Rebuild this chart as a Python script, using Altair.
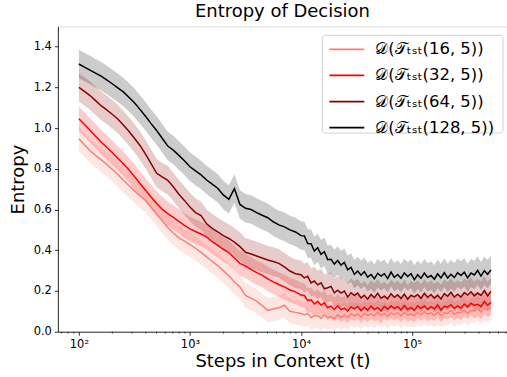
import altair as alt
import pandas as pd

# Sampling positions (log10 of steps in context)
early_logs = [2.00, 2.05, 2.10, 2.15, 2.20, 2.25, 2.30, 2.35, 2.40, 2.45,
              2.50, 2.55, 2.60, 2.65, 2.70, 2.75, 2.80, 2.85, 2.90, 2.95,
              3.00, 3.05, 3.10, 3.15, 3.20, 3.25, 3.30, 3.35, 3.40, 3.45,
              3.50, 3.55, 3.60, 3.65, 3.70, 3.75, 3.80, 3.85, 3.90, 3.95, 4.00]
late_logs = [4.03, 4.06, 4.09, 4.12, 4.15, 4.18, 4.21, 4.24, 4.27, 4.30,
             4.33, 4.36, 4.39, 4.42, 4.45, 4.48, 4.51, 4.54, 4.57, 4.60,
             4.63, 4.66, 4.69, 4.72, 4.75, 4.78, 4.81, 4.84, 4.87, 4.90,
             4.93, 4.96, 4.99, 5.02, 5.05, 5.08, 5.11, 5.14, 5.17, 5.20,
             5.23, 5.26, 5.29, 5.32, 5.35, 5.38, 5.41, 5.44, 5.47, 5.50,
             5.53, 5.56, 5.59, 5.62, 5.65, 5.68, 5.71]
log_steps = early_logs + late_logs

series_names = ["𝒟(𝒯ₜₛₜ(16, 5))", "𝒟(𝒯ₜₛₜ(32, 5))",
                "𝒟(𝒯ₜₛₜ(64, 5))", "𝒟(𝒯ₜₛₜ(128, 5))"]
series_colors = ["#fa8072", "#ff0000", "#8b0000", "#000000"]
band_opacity = [0.2, 0.2, 0.2, 0.15]

# Mean entropy per series
entropy_16 = [0.948, 0.918, 0.890, 0.866, 0.845, 0.822, 0.798, 0.772, 0.744, 0.718,
              0.692, 0.668, 0.645, 0.612, 0.578, 0.545, 0.512, 0.485, 0.462, 0.445,
              0.428, 0.410, 0.390, 0.368, 0.345, 0.325, 0.300, 0.275, 0.245, 0.220,
              0.178, 0.165, 0.150, 0.128, 0.105, 0.112, 0.118, 0.130, 0.100, 0.095, 0.090,
              0.082, 0.090, 0.069, 0.078, 0.080, 0.065, 0.082, 0.068, 0.075, 0.064,
              0.083, 0.070, 0.081, 0.070, 0.089, 0.078, 0.087, 0.072, 0.091, 0.080,
              0.088, 0.078, 0.096, 0.080, 0.090, 0.076, 0.092, 0.084, 0.094, 0.078,
              0.096, 0.082, 0.088, 0.079, 0.095, 0.083, 0.099, 0.087, 0.093, 0.081,
              0.097, 0.079, 0.093, 0.090, 0.104, 0.086, 0.096, 0.094, 0.108, 0.090,
              0.106, 0.102, 0.116, 0.098, 0.116, 0.106, 0.120]
entropy_32 = [1.046, 1.018, 0.990, 0.960, 0.932, 0.906, 0.880, 0.852, 0.825, 0.795,
              0.762, 0.728, 0.695, 0.662, 0.630, 0.602, 0.580, 0.562, 0.542, 0.522,
              0.505, 0.492, 0.480, 0.465, 0.442, 0.424, 0.405, 0.388, 0.362, 0.336,
              0.322, 0.306, 0.290, 0.278, 0.260, 0.245, 0.232, 0.220, 0.205, 0.196, 0.180,
              0.178, 0.153, 0.157, 0.136, 0.149, 0.131, 0.142, 0.118, 0.126, 0.109,
              0.127, 0.109, 0.116, 0.102, 0.122, 0.112, 0.124, 0.104, 0.120, 0.106,
              0.126, 0.110, 0.118, 0.102, 0.125, 0.111, 0.127, 0.115, 0.123, 0.107,
              0.129, 0.109, 0.119, 0.105, 0.127, 0.115, 0.127, 0.109, 0.123, 0.113,
              0.131, 0.107, 0.125, 0.121, 0.133, 0.115, 0.127, 0.116, 0.136, 0.122,
              0.140, 0.129, 0.135, 0.123, 0.148, 0.130, 0.144]
entropy_64 = [1.200, 1.180, 1.160, 1.135, 1.110, 1.090, 1.068, 1.045, 1.015, 0.985,
              0.950, 0.915, 0.872, 0.825, 0.778, 0.760, 0.744, 0.712, 0.675, 0.645,
              0.612, 0.585, 0.570, 0.530, 0.508, 0.490, 0.472, 0.458, 0.440, 0.418,
              0.390, 0.382, 0.372, 0.362, 0.352, 0.345, 0.336, 0.318, 0.298, 0.285, 0.280,
              0.264, 0.272, 0.240, 0.249, 0.230, 0.240, 0.211, 0.216, 0.222, 0.191,
              0.204, 0.190, 0.200, 0.170, 0.191, 0.178, 0.190, 0.166, 0.179, 0.160,
              0.183, 0.167, 0.189, 0.165, 0.175, 0.161, 0.187, 0.169, 0.181, 0.163,
              0.185, 0.159, 0.179, 0.171, 0.183, 0.163, 0.189, 0.169, 0.183, 0.165,
              0.179, 0.161, 0.187, 0.174, 0.194, 0.170, 0.184, 0.170, 0.192, 0.180,
              0.196, 0.176, 0.190, 0.178, 0.202, 0.176, 0.198]
entropy_128 = [1.315, 1.300, 1.285, 1.270, 1.255, 1.237, 1.218, 1.198, 1.178, 1.152,
               1.125, 1.092, 1.058, 1.022, 0.988, 0.950, 0.912, 0.892, 0.866, 0.840,
               0.810, 0.790, 0.770, 0.745, 0.725, 0.705, 0.672, 0.650, 0.703, 0.625,
               0.606, 0.600, 0.585, 0.572, 0.560, 0.540, 0.525, 0.515, 0.500, 0.490, 0.472,
               0.470, 0.433, 0.432, 0.396, 0.412, 0.380, 0.393, 0.354, 0.356, 0.332,
               0.350, 0.327, 0.340, 0.304, 0.316, 0.282, 0.298, 0.278, 0.295, 0.268,
               0.281, 0.260, 0.287, 0.273, 0.285, 0.261, 0.293, 0.267, 0.281, 0.263,
               0.289, 0.271, 0.285, 0.256, 0.280, 0.262, 0.288, 0.266, 0.276, 0.258,
               0.284, 0.264, 0.290, 0.264, 0.282, 0.266, 0.290, 0.276, 0.292, 0.264,
               0.288, 0.279, 0.301, 0.273, 0.300, 0.282, 0.304]

# Spread of the shaded band around each mean
band_spread = [0.06, 0.06, 0.07, 0.07]

major_ticks = [100, 1000, 10000, 100000]
minor_ticks = [70, 80, 90, 200, 300, 400, 500, 600, 700, 800, 900,
               2000, 3000, 4000, 5000, 6000, 7000, 8000, 9000,
               20000, 30000, 40000, 50000, 60000, 70000, 80000, 90000,
               200000, 300000, 400000, 500000, 600000, 700000]

rows = []
for name, values, spread in zip(series_names,
                                [entropy_16, entropy_32, entropy_64, entropy_128],
                                band_spread):
    for lg, v in zip(log_steps, values):
        rows.append({"series": name, "band": name, "t": 10 ** lg, "entropy": v,
                     "lo": v - spread, "hi": v + spread})
df = pd.DataFrame(rows)
minor_df = pd.DataFrame({"t": minor_ticks})

FONT = "DejaVu Sans"
PLOT_W, PLOT_H = 450, 306
x_scale = alt.Scale(type="log", domain=[64.7, 715000], nice=False)
y_scale = alt.Scale(domain=[0, 1.5], nice=False)

x_axis = alt.Axis(
    values=major_ticks,
    labelExpr="'10' + ['⁰','¹','²','³','⁴','⁵','⁶'][round(log(datum.value)/LN10)]",
    title="Steps in Context (t)", titleFontSize=18, titleFont=FONT,
    titleFontWeight="normal", titleColor="black", titlePadding=3,
    labelFontSize=11.5, labelFont=FONT, labelColor="black", labelPadding=3,
    tickSize=3.5, tickColor="black", tickWidth=0.8,
    domainColor="black", domainWidth=0.8, grid=False,
)
y_axis = alt.Axis(
    values=[0, 0.2, 0.4, 0.6, 0.8, 1.0, 1.2, 1.4], format=".1f",
    title="Entropy", titleFontSize=18, titleFont=FONT, titleFontWeight="normal",
    titleColor="black", titlePadding=6,
    labelFontSize=11.5, labelFont=FONT, labelColor="black", labelPadding=3,
    tickSize=3.5, tickColor="black", tickWidth=0.8,
    domainColor="black", domainWidth=0.8, grid=False,
)

bands = alt.Chart(df).mark_area(interpolate="linear").encode(
    x=alt.X("t:Q", scale=x_scale, axis=x_axis),
    y=alt.Y("lo:Q", scale=y_scale, axis=y_axis),
    y2="hi:Q",
    fill=alt.Fill("band:N",
                  scale=alt.Scale(domain=series_names, range=series_colors),
                  legend=None),
    opacity=alt.Opacity("band:N",
                        scale=alt.Scale(domain=series_names, range=band_opacity),
                        legend=None),
    detail="band:N",
)

lines = alt.Chart(df).mark_line(strokeWidth=1.5, interpolate="linear").encode(
    x=alt.X("t:Q", scale=x_scale, axis=x_axis),
    y=alt.Y("entropy:Q", scale=y_scale, axis=y_axis),
    color=alt.Color("series:N",
                    scale=alt.Scale(domain=series_names, range=series_colors),
                    legend=None),
    order="t:Q",
)

# Minor log ticks under the x axis
minor = alt.Chart(minor_df).mark_rule(color="black", strokeWidth=0.6).encode(
    x=alt.X("t:Q", scale=x_scale, axis=x_axis),
    y=alt.value(PLOT_H),
    y2=alt.value(PLOT_H + 2),
)

# Legend box in the upper right corner of the plot
LEG_X0, LEG_X1, LEG_Y0, LEG_Y1 = 265, 446, 9, 107
legend_layers = [
    alt.Chart(pd.DataFrame({"series": [series_names[0]]})).mark_rect(
        fill="white", stroke="#cccccc", strokeWidth=1, cornerRadius=3, opacity=0.9,
    ).encode(x=alt.value(LEG_X0), x2=alt.value(LEG_X1),
             y=alt.value(LEG_Y0), y2=alt.value(LEG_Y1))
]
for i, (name, col) in enumerate(zip(series_names, series_colors)):
    row_y = 23 + i * 26.2
    entry = pd.DataFrame({"series": [name]})
    legend_layers.append(
        alt.Chart(entry).mark_rule(color=col, strokeWidth=1.8).encode(
            x=alt.value(272), x2=alt.value(307), y=alt.value(row_y))
    )
    legend_layers.append(
        alt.Chart(entry).mark_text(align="left", baseline="middle", fontSize=16.5,
                                   font=FONT, color="black").encode(
            x=alt.value(318), y=alt.value(row_y), text="series:N")
    )

chart = alt.layer(bands, lines, minor, *legend_layers).properties(
    width=PLOT_W, height=PLOT_H,
    title=alt.TitleParams("Entropy of Decision", fontSize=18, font=FONT,
                          fontWeight="normal", color="black", offset=5),
    padding={"left": 58, "top": 26, "right": 0, "bottom": 45},
    autosize=alt.AutoSizeParams(type="none"),
).configure_view(stroke="black", strokeWidth=1).configure(background="white")

chart.save("out.html", embed_options={"renderer": "svg", "actions": False})
